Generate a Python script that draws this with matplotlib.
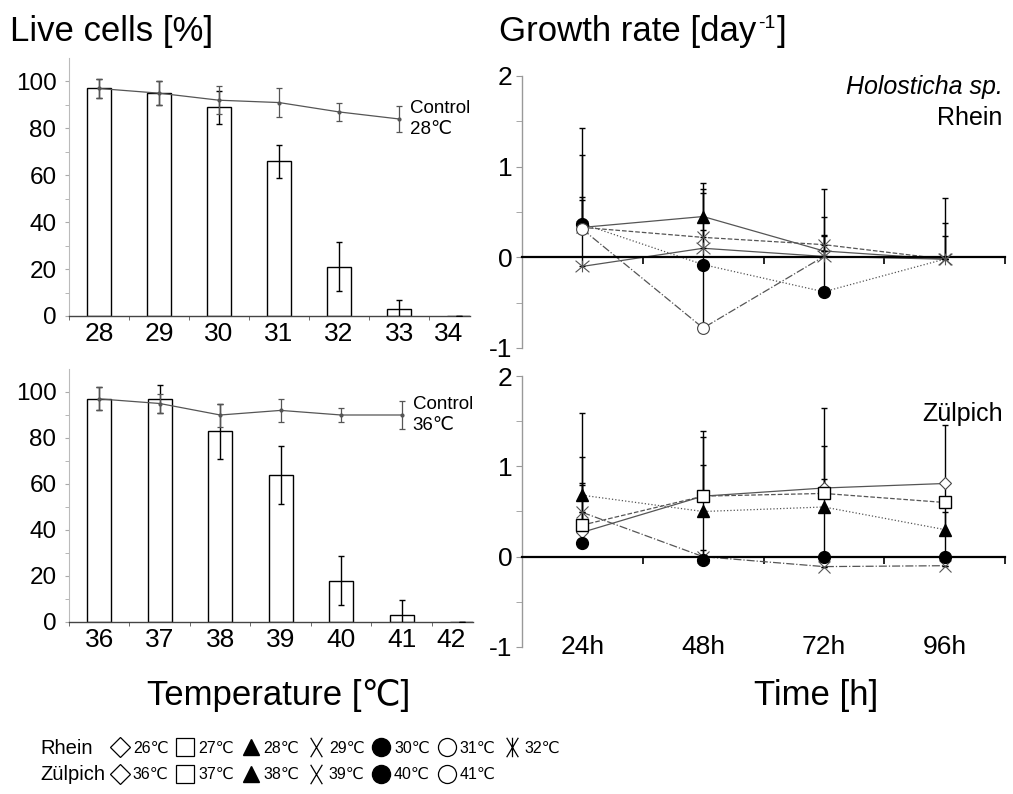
#!/usr/bin/env python3
"""
Live cells after heat exposure and growth rates of Holosticha sp.
Output: out.png
"""

import numpy as np
import matplotlib.pyplot as plt
from matplotlib.lines import Line2D
from matplotlib.path import Path
from matplotlib.offsetbox import TextArea, HPacker, AnnotationBbox

plt.rcParams['font.family'] = ['Liberation Sans', 'DejaVu Sans']

# =====================================
# Data
# =====================================
# live cells, Rhein strain (control at 28 C)
rh_temps = [28, 29, 30, 31, 32, 33, 34]
rh_live = [97, 95, 89, 66, 21, 3, 0]
rh_live_err = [4, 5, 7, 7, 10.5, 4, 0]
rh_ctrl = [97, 95, 92, 91, 87, 84]
rh_ctrl_err = [4, 5, 6, 6, 4, 5.5]

# live cells, Zuelpich strain (control at 36 C)
zu_temps = [36, 37, 38, 39, 40, 41, 42]
zu_live = [97, 97, 83, 64, 18, 3, 0]
zu_live_err = [5, 6, 12, 12.5, 10.5, 6.5, 0]
zu_ctrl = [97, 95, 90, 92, 90, 90]
zu_ctrl_err = [5, 4, 5, 5, 3, 6]

time_labels = ['24h', '48h', '72h', '96h']

# growth rates [day-1], Rhein (nan = not measured)
gr_rh_28 = [0.33, 0.45, 0.07, -0.02]
gr_rh_29 = [0.33, 0.22, 0.14, -0.02]
gr_rh_30 = [0.37, -0.08, -0.38, -0.02]
gr_rh_31 = [0.31, -0.78, 0.01, np.nan]
gr_rh_32 = [-0.10, 0.10, 0.01, -0.02]
gr_rh_28_up = [0, 0.37, 0, 0]
gr_rh_29_up = [0.34, 0.53, 0.61, 0.67]
gr_rh_30_up = [1.06, 0, 0.61, 0.26]
gr_rh_31_up = [0.82, 1.08, 0.24, 0]
gr_rh_32_up = [0.73, 0.61, 0.44, 0.40]

# growth rates [day-1], Zuelpich
gr_zu_36 = [0.27, 0.67, 0.76, 0.81]
gr_zu_37 = [0.35, 0.67, 0.70, 0.60]
gr_zu_38 = [0.68, 0.50, 0.55, 0.30]
gr_zu_39 = [0.49, 0.00, -0.11, -0.10]
gr_zu_40 = [0.15, -0.04, 0.00, 0.00]
gr_zu_36_up = [0.52, 0.35, 0.10, 0]
gr_zu_37_up = [0.75, 0.66, 0.52, 0]
gr_zu_38_up = [0.13, 0, 0, 0.19]
gr_zu_39_up = [0, 0.07, 0, 0]
gr_zu_40_up = [1.44, 1.43, 1.65, 1.46]

legend_rh = ['26℃', '27℃', '28℃', '29℃', '30℃', '31℃', '32℃']
legend_zu = ['36℃', '37℃', '38℃', '39℃', '40℃', '41℃']

# =====================================
# Markers
# =====================================
M, L = Path.MOVETO, Path.LINETO
NARROW_X = Path([(-0.3, -0.5), (0.3, 0.5), (-0.3, 0.5), (0.3, -0.5)], [M, L, M, L])
NARROW_AST = Path([(-0.3, -0.5), (0.3, 0.5), (-0.3, 0.5), (0.3, -0.5),
                   (0, -0.5), (0, 0.5)], [M, L, M, L, M, L])
WIDE_AST = Path([(-0.5, -0.42), (0.5, 0.42), (-0.5, 0.42), (0.5, -0.42),
                 (0, -0.42), (0, 0.42)], [M, L, M, L, M, L])

STYLES = {
    'diamond': dict(marker='D', mfc='white', mec='#444444', ms=6.5, mew=0.8),
    'square': dict(marker='s', mfc='white', mec='black', ms=8.5, mew=1.0),
    'triangle': dict(marker='^', mfc='black', mec='black', ms=8.5),
    'x': dict(marker='x', mfc='none', mec='#555555', ms=9, mew=0.8),
    'dot': dict(marker='o', mfc='black', mec='black', ms=8.5),
    'circle': dict(marker='o', mfc='white', mec='#444444', ms=8.5, mew=0.8),
    'ast': dict(marker=WIDE_AST, mfc='none', mec='#555555', ms=10, mew=0.8),
}


def live_panel(ax, temps, live, live_err, ctrl, ctrl_err, ctrl_label):
    x = np.arange(len(temps))
    ax.bar(x, live, width=0.4, color='white', edgecolor='black', linewidth=1.0, zorder=2)
    ax.errorbar(x, live, yerr=live_err, fmt='none', ecolor='black',
                elinewidth=1.0, capsize=2.5, capthick=1.0, zorder=3)
    xc = x[:len(ctrl)]
    ax.errorbar(xc, ctrl, yerr=ctrl_err, fmt='o-', color='#555555', ms=2,
                lw=0.9, elinewidth=0.9, capsize=2.5, capthick=0.9, zorder=4)
    ax.annotate(ctrl_label, xy=(xc[-1], ctrl[-1]), xytext=(8, 0),
                textcoords='offset points', va='center', ha='left',
                fontsize=13.5, linespacing=1.25)

    ax.set_xlim(-0.5, 6.18)
    ax.set_ylim(0, 110)
    # last label sits a bit left of its slot, as in the original
    label_pos = list(x[:-1]) + [x[-1] - 0.18]
    ax.set_xticks(label_pos)
    ax.set_xticklabels([str(t) for t in temps])
    ax.set_xticks(np.arange(-0.5, 6, 1), minor=True)
    ax.set_yticks(np.arange(0, 101, 20))
    ax.set_yticks(np.arange(0, 101, 10), minor=True)
    ax.tick_params(axis='x', which='major', length=0, labelsize=19, pad=4)
    ax.tick_params(axis='x', which='minor', length=3, color='#555555')
    ax.tick_params(axis='y', which='both', length=3, color='#aaaaaa',
                   labelsize=17.5, pad=6)
    for s in ['top', 'right']:
        ax.spines[s].set_visible(False)
    ax.spines['left'].set_color('#bbbbbb')
    ax.spines['left'].set_linewidth(0.8)
    ax.spines['bottom'].set_color('#444444')
    ax.spines['bottom'].set_linewidth(1.0)


def growth_series(ax, y, up, style, ls, markevery=None):
    x = np.arange(len(y))
    y = np.asarray(y, dtype=float)
    up = np.asarray(up, dtype=float)
    ax.errorbar(x, y, yerr=[np.zeros_like(up), up], fmt='none', ecolor='black',
                elinewidth=1.0, capsize=2.5, capthick=1.0, zorder=3)
    if ls is not None:
        ax.plot(x, y, ls=ls, color='#555555', lw=0.9, zorder=2)
    st = STYLES[style]
    ax.plot(x, y, ls='none', markevery=markevery, zorder=5, **st)


def growth_axes(ax):
    ax.set_xlim(-0.5, 3.5)
    ax.set_ylim(-1, 2)
    for s in ['top', 'right']:
        ax.spines[s].set_visible(False)
    ax.spines['bottom'].set_position(('data', 0))
    ax.spines['bottom'].set_linewidth(1.6)
    ax.spines['left'].set_color('#999999')
    ax.spines['left'].set_linewidth(1.0)
    ax.set_xticks(np.arange(0.5, 4, 1))
    ax.set_xticklabels([])
    ax.tick_params(axis='x', direction='out', length=5, width=1.2)
    ax.set_yticks([-1, 0, 1, 2])
    ax.set_yticklabels(['-1', '0', '1', '2'])
    ax.set_yticks(np.arange(-1, 2.01, 0.5), minor=True)
    ax.tick_params(axis='y', which='both', length=4, color='#999999',
                   labelsize=19, pad=3)


fig = plt.figure(figsize=(10.13, 7.94), dpi=100)
W, H = 1013.0, 794.0

# panel boxes in pixels
ax_tl = fig.add_axes([69 / W, 1 - 316 / H, 401 / W, 258 / H])
ax_bl = fig.add_axes([69 / W, 1 - 622 / H, 404 / W, 253 / H])
ax_tr = fig.add_axes([522 / W, 1 - 348 / H, 483 / W, 272 / H])
ax_br = fig.add_axes([522 / W, 1 - 647 / H, 483 / W, 271 / H])

live_panel(ax_tl, rh_temps, rh_live, rh_live_err, rh_ctrl, rh_ctrl_err, 'Control\n28℃')
live_panel(ax_bl, zu_temps, zu_live, zu_live_err, zu_ctrl, zu_ctrl_err, 'Control\n36℃')

# Rhein growth
growth_axes(ax_tr)
growth_series(ax_tr, gr_rh_28, gr_rh_28_up, 'triangle', '-', markevery=[1])
growth_series(ax_tr, gr_rh_29, gr_rh_29_up, 'x', '--')
growth_series(ax_tr, gr_rh_30, gr_rh_30_up, 'dot', ':', markevery=[0, 1, 2])
growth_series(ax_tr, gr_rh_31, gr_rh_31_up, 'circle', '-.', markevery=[0, 1])
growth_series(ax_tr, gr_rh_32, gr_rh_32_up, 'ast', '-')
ax_tr.text(0.995, 0.96, 'Holosticha sp.', transform=ax_tr.transAxes, ha='right',
           va='center', fontsize=18, style='italic')
ax_tr.text(0.995, 0.845, 'Rhein', transform=ax_tr.transAxes, ha='right',
           va='center', fontsize=18)

# Zuelpich growth
growth_axes(ax_br)
growth_series(ax_br, gr_zu_36, gr_zu_36_up, 'diamond', '-')
growth_series(ax_br, gr_zu_37, gr_zu_37_up, 'square', '--')
growth_series(ax_br, gr_zu_38, gr_zu_38_up, 'triangle', ':')
growth_series(ax_br, gr_zu_39, gr_zu_39_up, 'x', '-.')
growth_series(ax_br, gr_zu_40, gr_zu_40_up, 'dot', None)
ax_br.text(0.995, 0.86, 'Zülpich', transform=ax_br.transAxes, ha='right',
           va='center', fontsize=18)
for i, lbl in enumerate(time_labels):
    ax_br.text(i, -1, lbl, ha='center', va='center', fontsize=19)

# titles and axis names
fig.text(10 / W, 1 - 32 / H, 'Live cells [%]', fontsize=25, va='center')
title_parts = HPacker(children=[TextArea('Growth rate [day', textprops=dict(fontsize=25)),
                                TextArea('-1', textprops=dict(fontsize=14)),
                                TextArea(']', textprops=dict(fontsize=25))],
                      align='top', pad=0, sep=1)
fig.add_artist(AnnotationBbox(title_parts, (499 / W, 1 - 32 / H), xycoords='figure fraction',
                              box_alignment=(0, 0.5), frameon=False, pad=0))
fig.text(279 / W, 1 - 695 / H, 'Temperature [℃]', fontsize=25, va='center', ha='center')
fig.text(816 / W, 1 - 695 / H, 'Time [h]', fontsize=25, va='center', ha='center')

# legend
fig.text(40 / W, 1 - 748 / H, 'Rhein', fontsize=14.5, va='center')
fig.text(40 / W, 1 - 774 / H, 'Zülpich', fontsize=14.5, va='center')
leg_style = [
    dict(marker='D', mfc='white', mec='black', ms=10, mew=0.9),
    dict(marker='s', mfc='white', mec='black', ms=13, mew=0.9),
    dict(marker='^', mfc='black', mec='black', ms=12),
    dict(marker=NARROW_X, mfc='none', mec='black', ms=14, mew=0.9),
    dict(marker='o', mfc='black', mec='black', ms=13),
    dict(marker='o', mfc='white', mec='black', ms=13, mew=0.9),
    dict(marker=NARROW_AST, mfc='none', mec='black', ms=14, mew=0.9),
]
handles, labels = [], []
for i in range(len(legend_rh)):
    handles.append(Line2D([], [], ls='none', **leg_style[i]))
    labels.append(legend_rh[i])
    if i < len(legend_zu):
        handles.append(Line2D([], [], ls='none', **leg_style[i]))
        labels.append(legend_zu[i])
fig.legend(handles, labels, ncol=7, loc='upper left',
           bbox_to_anchor=(112 / W, 1 - 741 / H), frameon=False, fontsize=11.5,
           handlelength=1.0, handletextpad=0.3, columnspacing=0.55,
           labelspacing=0.7, borderpad=0, borderaxespad=0)

fig.savefig('out.png', dpi=100)
